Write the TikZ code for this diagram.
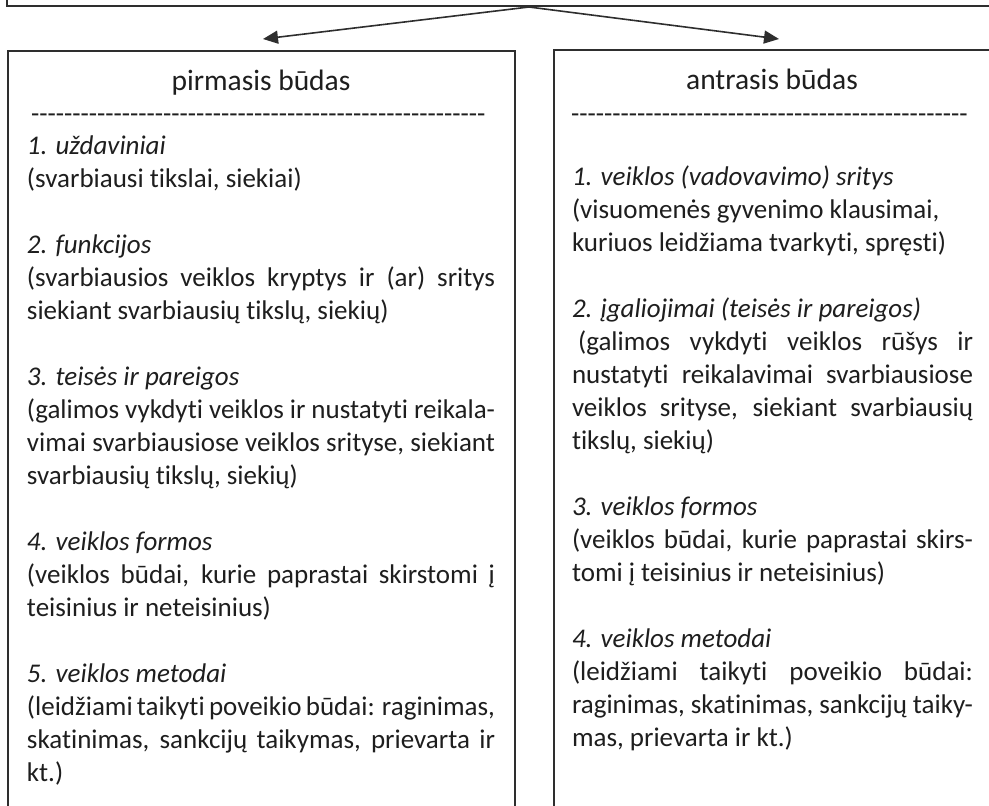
\documentclass[tikz,border=0pt]{standalone}
\usepackage{fontspec}
\setmainfont{Carlito}[Ligatures={NoCommon}]
\usetikzlibrary{arrows.meta}
\definecolor{ink}{HTML}{1E1E1E}
\definecolor{rule}{HTML}{2E2E2E}
\tikzset{
  frame/.style={draw=rule, line width=1.6pt, rectangle, inner sep=0pt, fill=white},
  conn/.style={draw=rule, line width=1.6pt, -{Triangle[length=15pt,width=13pt]}},
  txt/.style={anchor=base west, inner sep=0pt, outer sep=0pt, text=ink, font=\fontsize{27}{33}\selectfont},
  ttl/.style={anchor=base, inner sep=0pt, outer sep=0pt, text=ink, font=\fontsize{29.5}{35}\selectfont},
}
\newcommand\Lj[1]{\makebox[468pt][s]{#1}}
\newcommand\Rj[1]{\makebox[401pt][s]{#1}}
\newcommand\hyphrow[1]{\foreach \i in {1,...,#1}{-}}
\begin{document}
\begin{tikzpicture}[x=1pt,y=-1pt]
\useasboundingbox (0,0) rectangle (989,806);
\clip (0,0) rectangle (989,806);
% boxes
\node[frame, anchor=south, minimum width=1044pt, minimum height=80pt] (top) at (529,7) {};
\node[frame, anchor=north west, minimum width=507pt, minimum height=800pt] (leftbox) at (7,50) {};
\node[frame, anchor=north west, minimum width=520pt, minimum height=800pt] (rightbox) at (553,49) {};
% arrows
\coordinate (apex) at (top.south);
\coordinate (ltip) at (263,39);
\coordinate (rtip) at (779,39);
\draw[conn] (apex) -- (ltip);
\draw[conn] (apex) -- (rtip);
% titles
\node[ttl] (ltitle) at (261,90) {pirmasis būdas};
\node[ttl] (rtitle) at (772,89) {antrasis būdas};
\node[txt] (ldash) at (31,122) {\hyphrow{55}};
\node[txt] (rdash) at (571,122) {\hyphrow{48}};
% left column
\node[txt] (l1) at (27,154) {\textit{1. uždaviniai}};
\node[txt] (l2) at (27,187) {(svarbiausi tikslai, siekiai)};
\node[txt] (l3) at (27,253) {\textit{2. funkcijos}};
\node[txt] (l4) at (27,286) {\Lj{(svarbiausios veiklos kryptys ir (ar) sritys}};
\node[txt] (l5) at (27,319) {siekiant svarbiausių tikslų, siekių)};
\node[txt] (l6) at (27,385) {\textit{3. teisės ir pareigos}};
\node[txt] (l7) at (27,418) {\Lj{(galimos vykdyti veiklos ir nustatyti reikala-}};
\node[txt] (l8) at (27,451) {\Lj{vimai svarbiausiose veiklos srityse, siekiant}};
\node[txt] (l9) at (27,484) {svarbiausių tikslų, siekių)};
\node[txt] (l10) at (27,550) {\textit{4. veiklos formos}};
\node[txt] (l11) at (27,583) {\Lj{(veiklos būdai, kurie paprastai skirstomi į}};
\node[txt] (l12) at (27,616) {teisinius ir neteisinius)};
\node[txt] (l13) at (27,682) {\textit{5. veiklos metodai}};
\node[txt] (l14) at (27,715) {\Lj{(leidžiami taikyti poveikio būdai: raginimas,}};
\node[txt] (l15) at (27,748) {\Lj{skatinimas, sankcijų taikymas, prievarta ir}};
\node[txt] (l16) at (27,781) {kt.)};
% right column
\node[txt] (r1) at (572,185) {\textit{1. veiklos (vadovavimo) sritys}};
\node[txt] (r2) at (572,218) {(visuomenės gyvenimo klausimai,};
\node[txt] (r3) at (572,251) {kuriuos leidžiama tvarkyti, spręsti)};
\node[txt] (r4) at (572,317) {\textit{2. įgaliojimai (teisės ir pareigos)}};
\node[txt] (r5) at (572,350) {\Rj{\hspace{6pt}(galimos vykdyti veiklos rūšys ir}};
\node[txt] (r6) at (572,383) {\Rj{nustatyti reikalavimai svarbiausiose}};
\node[txt] (r7) at (572,416) {\Rj{veiklos srityse, siekiant svarbiausių}};
\node[txt] (r8) at (572,449) {tikslų, siekių)};
\node[txt] (r9) at (572,515) {\textit{3. veiklos formos}};
\node[txt] (r10) at (572,548) {\Rj{(veiklos būdai, kurie paprastai skirs-}};
\node[txt] (r11) at (572,581) {tomi į teisinius ir neteisinius)};
\node[txt] (r12) at (572,647) {\textit{4. veiklos metodai}};
\node[txt] (r13) at (572,680) {\Rj{(leidžiami taikyti poveikio būdai:}};
\node[txt] (r14) at (572,713) {\Rj{raginimas, skatinimas, sankcijų taiky-}};
\node[txt] (r15) at (572,746) {mas, prievarta ir kt.)};
\end{tikzpicture}
\end{document}
